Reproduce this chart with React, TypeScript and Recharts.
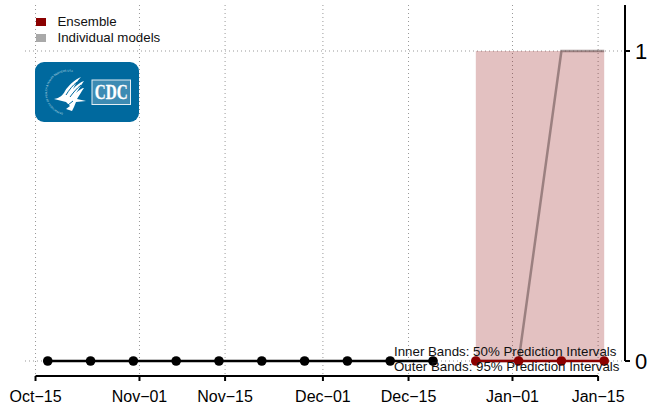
import { Area, ComposedChart, CartesianGrid, Line, ReferenceLine, XAxis, YAxis } from "recharts";

// days since Oct-15
const xTicks = [0, 17, 31, 47, 61, 78, 92];
const xTickLabels = ["Oct−15", "Nov−01", "Nov−15", "Dec−01", "Dec−15", "Jan−01", "Jan−15"];
const yTicks = [0, 1];

const days = [2, 9, 16, 23, 30, 37, 44, 51, 58, 65, 72, 79, 86, 93];
const observed = [0, 0, 0, 0, 0, 0, 0, 0, 0, 0, null, null, null, null];
const ensemble = [null, null, null, null, null, null, null, null, null, null, 0, 0, 0, 0];
const individual = [null, null, null, null, null, null, null, null, null, null, 0, 0, 1, 1];
const lower95 = [null, null, null, null, null, null, null, null, null, null, 0, 0, 0, 0];
const upper95 = [null, null, null, null, null, null, null, null, null, null, 1, 1, 1, 1];
const lower50 = [null, null, null, null, null, null, null, null, null, null, 0, 0, 0, 0];
const upper50 = [null, null, null, null, null, null, null, null, null, null, 1, 1, 1, 1];

const rows = days.map((day, i) => ({
  day,
  observed: observed[i],
  ensemble: ensemble[i],
  individual: individual[i],
  band95: upper95[i] === null ? null : [lower95[i], upper95[i]],
  band50: upper50[i] === null ? null : [lower50[i], upper50[i]],
}));

const FONT = "'Liberation Sans', Arial, sans-serif";
const MAROON = "#8b0000";

function LegendBox() {
  const items = [
    { name: "Ensemble", color: MAROON },
    { name: "Individual models", color: "#a9a9a9" },
  ];
  return (
    <div style={{ position: "absolute", left: 35.5, top: 14, fontFamily: FONT, fontSize: 13.3, color: "#111" }}>
      {items.map((it) => (
        <div key={it.name} style={{ position: "relative", height: 15.5, lineHeight: "15.5px", paddingLeft: 22, whiteSpace: "nowrap" }}>
          <span style={{ position: "absolute", left: 0, top: 4, width: 10.5, height: 8, background: it.color }} />
          {it.name}
        </div>
      ))}
    </div>
  );
}

// logo is only decoration, hand drawn
function CdcLogo() {
  return (
    <svg width={104} height={60} style={{ position: "absolute", left: 35, top: 62 }}>
      <rect width={104} height={60} rx={9} fill="#00699e" />
      <defs>
        <path id="hhsRing" d="M 28 51 A 21 21 0 1 1 47 15" />
      </defs>
      <text fontFamily={FONT} fontSize={2.6} fill="#cfe0ea">
        <textPath href="#hhsRing">DEPARTMENT OF HEALTH &amp; HUMAN SERVICES USA</textPath>
      </text>
      <path d="M19 37 C 25 36 28 33 30 29 C 33 24 39 18 46 15 C 42 19 40 23 38 27 C 41 23 46 20 49 19 C 46 23 44 27 41 31 C 44 28 47 26 49 26 C 46 30 44 34 42 37 L 51 39 L 41 40 L 39 45 L 37 49 L 31 47 L 35 44 L 31 40 Z" fill="#fff" />
      <path d="M31 33 C 34 28 38 23 42 20 M35 35 C 38 31 41 27 46 23 M33 43 L 38 39" stroke="#00699e" strokeWidth={1} fill="none" />
      <rect x={57} y={18} width={38.5} height={24.5} fill="#3d8bb3" stroke="#e4eef4" strokeWidth={1} />
      <text x={76.2} y={36.5} textAnchor="middle" textLength={33} lengthAdjust="spacingAndGlyphs" fontFamily="'Liberation Serif', serif" fontWeight="bold" fontSize={20} fill="#fff" stroke="#fff" strokeWidth={0.3}>
        CDC
      </text>
    </svg>
  );
}

export default function App() {
  return (
    <div style={{ position: "absolute", left: 0, top: 0, width: 647, height: 411, background: "#fff" }}>
      <ComposedChart width={647} height={411} data={rows} margin={{ top: 5, right: 0, bottom: 0, left: 25 }}>
        <CartesianGrid stroke="#999" strokeWidth={1} strokeDasharray="1 3" syncWithTicks />
        <XAxis
          dataKey="day"
          type="number"
          domain={[-1.72, 96.4]}
          ticks={xTicks}
          tickFormatter={(v: number) => xTickLabels[xTicks.indexOf(v)]}
          axisLine={false}
          tickLine={{ stroke: "#000", strokeWidth: 2 }}
          tickSize={5}
          tickMargin={10}
          interval={0}
          height={35}
          tick={{ fontSize: 16, fill: "#000", fontFamily: FONT }}
        />
        <YAxis
          orientation="right"
          type="number"
          domain={[-0.0484, 1.1484]}
          ticks={yTicks}
          axisLine={false}
          tickLine={{ stroke: "#000", strokeWidth: 2 }}
          tickSize={5}
          tickMargin={5}
          interval={0}
          width={22}
          tick={{ fontSize: 22, fill: "#000", fontFamily: FONT }}
        />
        <ReferenceLine segment={[{ x: 0, y: -0.0484 }, { x: 92, y: -0.0484 }]} stroke="#000" strokeWidth={2} ifOverflow="visible" />
        <ReferenceLine segment={[{ x: 96.4, y: 0 }, { x: 96.4, y: 1.1484 }]} stroke="#000" strokeWidth={2} ifOverflow="visible" />
        <Area dataKey="band95" stroke="none" fill={MAROON} fillOpacity={0.13} isAnimationActive={false} connectNulls={false} />
        <Area dataKey="band50" stroke="none" fill={MAROON} fillOpacity={0.13} isAnimationActive={false} connectNulls={false} />
        <Line dataKey="individual" stroke="#6b5555" strokeOpacity={0.6} strokeWidth={2.5} dot={false} isAnimationActive={false} />
        <Line dataKey="observed" stroke="#000" strokeWidth={2.5} dot={{ r: 4.8, fill: "#000", stroke: "#000", strokeWidth: 0 }} isAnimationActive={false} />
        <Line dataKey="ensemble" stroke={MAROON} strokeWidth={2.5} dot={{ r: 4.8, fill: MAROON, stroke: MAROON, strokeWidth: 0 }} isAnimationActive={false} />
      </ComposedChart>
      <LegendBox />
      <CdcLogo />
      <div style={{ position: "absolute", left: 394, top: 344, fontFamily: FONT, fontSize: 13.3, lineHeight: "15px", whiteSpace: "nowrap", color: "#111" }}>
        <div>Inner Bands: 50% Prediction Intervals</div>
        <div>Outer Bands: 95% Prediction Intervals</div>
      </div>
    </div>
  );
}
